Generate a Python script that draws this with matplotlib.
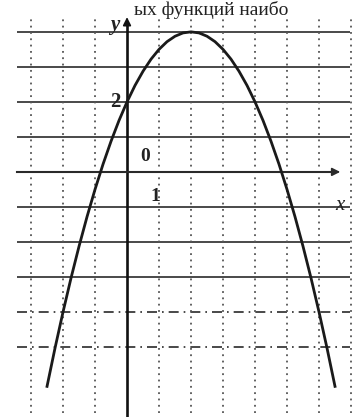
import numpy as np
import matplotlib.pyplot as plt

# points of the curve (y-intercept 2, top near x = 2)
curve_x = [-2.5, -2.25, -2.0, -1.75, -1.5, -1.25, -1.0, -0.75, -0.5, -0.25,
           0.0, 0.25, 0.5, 0.75, 1.0, 1.25, 1.5, 1.75, 2.0, 2.25, 2.5, 2.75,
           3.0, 3.25, 3.5, 3.75, 4.0, 4.25, 4.5, 4.75, 5.0, 5.25, 5.5, 5.75,
           6.0, 6.25, 6.5]
curve_y = [-6.125, -5.03, -4.0, -3.03, -2.125, -1.28, -0.5, 0.22, 0.875, 1.47,
           2.0, 2.47, 2.875, 3.22, 3.5, 3.72, 3.875, 3.97, 4.0, 3.97, 3.875, 3.72,
           3.5, 3.22, 2.875, 2.47, 2.0, 1.47, 0.875, 0.22, -0.5, -1.28, -2.125, -3.03,
           -4.0, -5.03, -6.125]

solid_rows = [4, 3, 2, 1, -1, -2, -3]
dashed_rows = [-4, -5]
grid_cols = [-3, -2, -1, 1, 2, 3, 4, 5, 6, 7]

INK = "#2a2a2a"

fig = plt.figure(figsize=(3.63, 4.17), dpi=100)
ax = fig.add_axes([0, 0, 1, 1])
ax.set_xlim(-3.97, 7.375)
ax.set_ylim(-7.0, 4.91)
ax.axis('off')

# grid
for r in solid_rows:
    ax.plot([-3.45, 6.97], [r, r], color=INK, lw=1.2, solid_capstyle='butt')
for r in dashed_rows:
    ax.plot([-3.45, 6.97], [r, r], color=INK, lw=1.2, ls=(0, (6, 3, 1, 3)))
for c in grid_cols:
    ax.plot([c, c], [-6.9, 4.45], color="#555555", lw=1.3, ls=(0, (1, 2.5)))

# axes with arrows
ax.plot([0, 0], [-7.0, 4.2], color="#111111", lw=1.9)
ax.annotate("", xy=(0, 4.5), xytext=(0, 4.1),
            arrowprops=dict(arrowstyle="-|>", color="#111111", lw=1.2, mutation_scale=12))
ax.plot([-3.45, 6.5], [0, 0], color=INK, lw=1.5)
ax.annotate("", xy=(6.75, 0), xytext=(6.3, 0),
            arrowprops=dict(arrowstyle="-|>", color=INK, lw=1.2, mutation_scale=12))

# the curve
ax.plot(curve_x, curve_y, color="#1a1a1a", lw=2.0)

serif = ['Liberation Serif', 'DejaVu Serif']
ax.text(-0.4, 4.2, "y", fontsize=15, fontstyle='italic', fontweight='bold',
        family=serif, ha='center', va='center', color="#222222")
ax.text(6.65, -0.95, "x", fontsize=15, fontstyle='italic', family=serif,
        ha='center', va='center', color="#222222")
ax.text(-0.38, 2.0, "2", fontsize=15, family=serif, fontweight='bold',
        ha='center', va='center', color="#222222")
ax.text(0.56, 0.43, "0", fontsize=14, family=serif, fontweight='bold',
        ha='center', va='center', color="#222222")
ax.text(0.88, -0.7, "1", fontsize=14, family=serif, fontweight='bold',
        ha='center', va='center', color="#222222")

# line of the page text above the chart
fig.text(0.37, 0.998, "ых функций наибо", fontsize=14, family=serif,
         ha='left', va='top', color="#222222")

fig.savefig("out.png", dpi=100, facecolor="white")
